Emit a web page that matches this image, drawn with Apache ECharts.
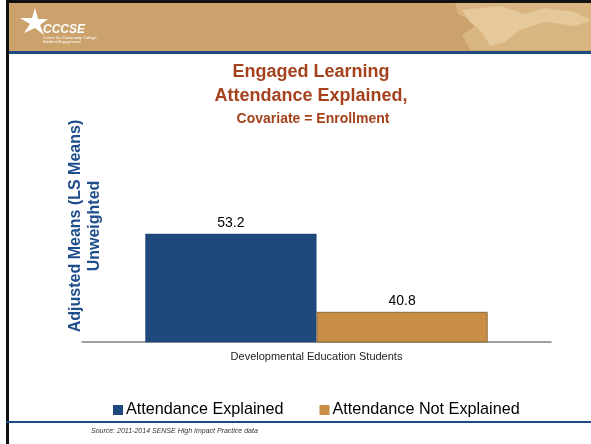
<!DOCTYPE html>
<html>
<head>
<meta charset="utf-8">
<script src="https://cdn.jsdelivr.net/npm/echarts@6/dist/echarts.min.js"></script>
<style>
  html, body { margin: 0; padding: 0; background: #fff; }
  #chart { width: 591px; height: 444px; }
</style>
</head>
<body>
<div id="chart"></div>
<script>
// data
var categories = ['Developmental Education Students'];
var seriesNames = ['Attendance Explained', 'Attendance Not Explained'];
var explained = [53.2];
var notExplained = [40.8];
var titleLines = ['Engaged Learning', 'Attendance Explained,', 'Covariate = Enrollment'];
var yTitle = 'Adjusted Means (LS Means)\nUnweighted';
var sourceNote = 'Source: 2011-2014 SENSE High Impact Practice data';

var FONT = '"Liberation Sans", Arial, sans-serif';
var myChart = echarts.init(document.getElementById('chart'));

myChart.setOption({
    backgroundColor: '#fff',
    animation: false,
    title: [
        { text: titleLines[0], left: 306, top: 58, textAlign: 'center',
          textStyle: { color: '#A3421C', fontSize: 18, fontWeight: 'bold', fontFamily: FONT } },
        { text: titleLines[1], left: 306, top: 82, textAlign: 'center',
          textStyle: { color: '#A3421C', fontSize: 18, fontWeight: 'bold', fontFamily: FONT } },
        { text: titleLines[2], left: 308, top: 107, textAlign: 'center',
          textStyle: { color: '#A3421C', fontSize: 14, fontWeight: 'bold', fontFamily: FONT } }
    ],
    legend: {
        data: seriesNames,
        left: 108,
        top: 397,
        icon: 'rect',
        itemWidth: 10,
        itemHeight: 10,
        itemGap: 36,
        itemStyle: { borderWidth: 0 },
        textStyle: { color: '#000', fontSize: 16.2, fontFamily: FONT, padding: [0, 0, 0, -2] }
    },
    grid: { left: 82, right: 40, top: 191, bottom: 102 },
    xAxis: {
        type: 'category',
        data: categories,
        axisLine: { lineStyle: { color: '#808080', width: 1.5 } },
        axisTick: { show: false },
        axisLabel: { color: '#222', fontSize: 11, fontFamily: FONT, margin: 9 }
    },
    yAxis: {
        type: 'value',
        min: 36,
        max: 60,
        show: false
    },
    series: [
        {
            name: seriesNames[0],
            type: 'bar',
            data: explained,
            barGap: 0,
            barCategoryGap: '27%',
            itemStyle: { color: '#1F497D', borderColor: '#1B3F6C', borderWidth: 0.5 },
            label: { show: true, position: 'top', distance: 4, color: '#000', fontSize: 14, fontFamily: FONT,
                     formatter: function (p) { return p.value.toFixed(1); } }
        },
        {
            name: seriesNames[1],
            type: 'bar',
            data: notExplained,
            itemStyle: { color: '#C98D45', borderColor: '#8C6B3E', borderWidth: 1 },
            label: { show: true, position: 'top', distance: 4, color: '#000', fontSize: 14, fontFamily: FONT,
                     formatter: function (p) { return p.value.toFixed(1); } }
        }
    ],
    graphic: [
        // header band
        { type: 'rect', shape: { x: 6, y: 0, width: 585, height: 52 }, style: { fill: '#CBA26C' }, z: 1 },
        { type: 'polygon', shape: { points: [[455, 3], [591, 3], [591, 50], [470, 50], [462, 35], [478, 24], [458, 14]] },
          style: { fill: '#D9B581' }, z: 2 },
        { type: 'polygon', shape: { points: [[462, 10], [500, 6], [525, 14], [545, 8], [575, 12], [591, 20], [575, 26], [545, 22], [520, 30], [505, 42], [490, 46], [482, 32], [470, 22]] },
          style: { fill: '#E6C99A' }, z: 3 },
        { type: 'rect', shape: { x: 6, y: 0, width: 585, height: 3 }, style: { fill: '#111' }, z: 4 },
        { type: 'rect', shape: { x: 6, y: 51, width: 585, height: 3 }, style: { fill: '#1F4C80' }, z: 4 },
        { type: 'rect', shape: { x: 6, y: 0, width: 3, height: 444 }, style: { fill: '#111' }, z: 4 },
        // logo
        { type: 'polygon', shape: { points: [[35, 8], [38, 19], [48, 19], [40, 25], [44, 35], [35, 28], [24, 33], [30, 24], [20, 18], [32, 18]] },
          style: { fill: '#fff' }, z: 5 },
        { type: 'text', x: 43, y: 24, style: { text: 'CCCSE', fill: '#fff', font: 'italic bold 12px ' + FONT }, z: 5 },
        { type: 'text', x: 43, y: 36, style: { text: 'Centre for Community College', fill: '#fff', font: 'italic 4px ' + FONT }, z: 5 },
        { type: 'text', x: 43, y: 40, style: { text: 'Student Engagement', fill: '#fff', font: 'italic 4px ' + FONT }, z: 5 },
        // y axis title
        { type: 'text', x: 85, y: 226, rotation: Math.PI / 2,
          style: { text: yTitle, fill: '#1F4E8C', font: 'bold 16px ' + FONT, textAlign: 'center', textVerticalAlign: 'middle', lineHeight: 19 }, z: 5 },
        // footer
        { type: 'rect', shape: { x: 6, y: 421, width: 585, height: 2 }, style: { fill: '#1F4C80' }, z: 4 },
        { type: 'text', x: 91, y: 428, style: { text: sourceNote, fill: '#333', font: 'italic 7px ' + FONT }, z: 5 }
    ]
});
</script>
</body>
</html>
